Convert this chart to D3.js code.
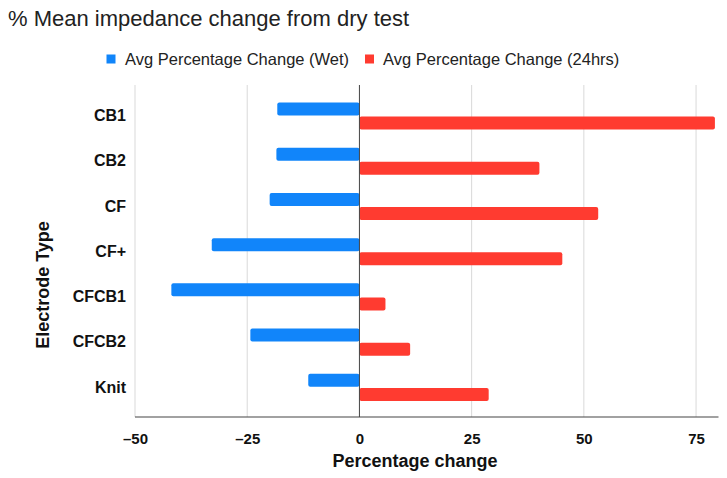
<!DOCTYPE html>
<html>
<head>
<meta charset="utf-8">
<script src="https://cdn.jsdelivr.net/npm/d3@7"></script>
<style>
  body { margin: 0; background: #fff; }
  svg { display: block; }
</style>
</head>
<body>
<svg id="chart" width="727" height="478"></svg>
<script>
const categories = ["CB1", "CB2", "CF", "CF+", "CFCB1", "CFCB2", "Knit"];
const seriesNames = ["Avg Percentage Change (Wet)", "Avg Percentage Change (24hrs)"];
const wetValues = [-18.3, -18.5, -20.0, -32.9, -41.9, -24.3, -11.4];
const hrs24Values = [79.2, 40.1, 53.2, 45.2, 5.8, 11.3, 28.8];
const xTicks = [-50, -25, 0, 25, 50, 75];
const colors = ["#1185fa", "#ff3b30"];

const svg = d3.select("#chart");
const plotTop = 85, plotBottom = 417, plotLeft = 135, plotRight = 718.5;
const FONT = "Liberation Sans, Arial, sans-serif";

const x = d3.scaleLinear().domain([-50, 80]).range([plotLeft, plotRight]);
const y = d3.scaleBand().domain(categories).range([93.4, 410]).paddingInner(0.4).paddingOuter(0.2);
const ySub = d3.scaleBand().domain(seriesNames).range([0, y.bandwidth()]).paddingInner(0.08);

// title
svg.append("text").attr("x", 8).attr("y", 26)
  .attr("font-family", FONT).attr("font-size", 22)
  .attr("fill", "#222").text("% Mean impedance change from dry test");

// gridlines
svg.append("g").selectAll("line").data(xTicks.filter(t => t !== 0)).join("line")
  .attr("x1", d => x(d)).attr("x2", d => x(d))
  .attr("y1", plotTop).attr("y2", plotBottom)
  .attr("stroke", "#d9d9d9").attr("stroke-width", 1);

// bars
const data = categories.map((c, i) => ({ cat: c, vals: [wetValues[i], hrs24Values[i]] }));
const groups = svg.append("g").selectAll("g").data(data).join("g")
  .attr("transform", d => `translate(0,${y(d.cat)})`);
groups.selectAll("rect").data(d => d.vals.map((v, j) => ({ v, s: seriesNames[j], j }))).join("rect")
  .attr("x", d => Math.min(x(0), x(d.v)))
  .attr("width", d => Math.abs(x(d.v) - x(0)))
  .attr("y", d => ySub(d.s))
  .attr("height", ySub.bandwidth())
  .attr("rx", 2).attr("ry", 2)
  .attr("fill", d => colors[d.j]);

// zero line
svg.append("line").attr("x1", x(0)).attr("x2", x(0)).attr("y1", plotTop).attr("y2", plotBottom)
  .attr("stroke", "#444").attr("stroke-width", 1);

// x axis
const xAxis = svg.append("g").attr("transform", `translate(0,${plotBottom})`)
  .call(d3.axisBottom(x).tickValues(xTicks).tickSize(0).tickPadding(16)
    .tickFormat(d => d < 0 ? "\u2013" + Math.abs(d) : d));
xAxis.select(".domain").attr("stroke", "#444").attr("stroke-width", 1.2)
  .attr("d", `M${plotLeft},0H${plotRight}`);
xAxis.selectAll("text").attr("font-family", FONT)
  .attr("font-size", 15).attr("font-weight", "bold").attr("fill", "#111");

// y axis
const yAxis = svg.append("g").attr("transform", `translate(${plotLeft},0)`)
  .call(d3.axisLeft(y).tickSize(0).tickPadding(9));
yAxis.select(".domain").remove();
yAxis.selectAll("text").attr("font-family", FONT)
  .attr("font-size", 16).attr("font-weight", "bold").attr("fill", "#111");

// axis titles
svg.append("text").attr("x", 415).attr("y", 467).attr("text-anchor", "middle")
  .attr("font-family", FONT).attr("font-size", 18)
  .attr("font-weight", "bold").attr("fill", "#111").text("Percentage change");
svg.append("text").attr("transform", "translate(49,285) rotate(-90)").attr("text-anchor", "middle")
  .attr("font-family", FONT).attr("font-size", 18)
  .attr("font-weight", "bold").attr("fill", "#111").text("Electrode Type");

// legend
const legendPos = [{ sx: 106.5, tx: 125 }, { sx: 365, tx: 383 }];
const legend = svg.append("g").selectAll("g").data(seriesNames).join("g");
legend.append("rect").attr("x", (d, i) => legendPos[i].sx).attr("y", 54.5)
  .attr("width", 9).attr("height", 9).attr("fill", (d, i) => colors[i]);
legend.append("text").attr("x", (d, i) => legendPos[i].tx).attr("y", 65)
  .attr("font-family", FONT).attr("font-size", 16.5)
  .attr("fill", "#222").text(d => d);
</script>
</body>
</html>
